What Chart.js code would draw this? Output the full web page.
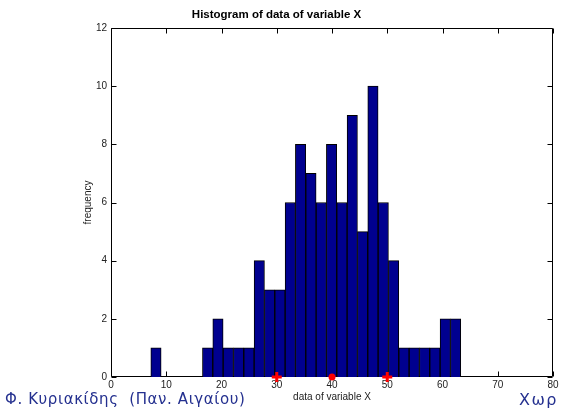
<!DOCTYPE html>
<html>
<head>
<meta charset="utf-8">
<script src="https://cdn.jsdelivr.net/npm/chart.js@4"></script>
<style>
body { margin: 0; background: #fff; }
#wrap { position: relative; width: 562px; height: 410px; overflow: hidden; }
#histChart { display: block; }
.note { position: absolute; font-family: "DejaVu Sans", sans-serif; font-size: 15px; letter-spacing: 0.6px; color: #24308f; white-space: nowrap; line-height: 1; }
</style>
</head>
<body>
<div id="wrap">
  <canvas id="histChart" width="562" height="410"></canvas>
  <div class="note" style="left:5px; top:392px;">Φ. Κυριακίδης &nbsp;(Παν. Αιγαίου)</div>
  <div class="note" style="left:519px; top:392px; font-size:16px; letter-spacing:1.5px;">Χωρ</div>
</div>
<script>
// 30 bins between min and max of the sample (hist(x,30))
const binCentres = [8.14, 10.01, 11.88, 13.75, 15.62, 17.49, 19.36, 21.23, 23.10, 24.97,
                    26.84, 28.71, 30.58, 32.45, 34.32, 36.19, 38.06, 39.93, 41.80, 43.67,
                    45.54, 47.41, 49.28, 51.15, 53.02, 54.89, 56.76, 58.63, 60.50, 62.37];
const counts = [1, 0, 0, 0, 0, 1, 2, 1, 1, 1,
                4, 3, 3, 6, 8, 7, 6, 8, 6, 9,
                5, 10, 6, 4, 1, 1, 1, 1, 2, 2];
const crossMarks = [30, 50];
const meanMark = [40];
const xRange = [0, 80];
const yRange = [0, 12];

Chart.defaults.font.family = "'Liberation Sans', Arial, sans-serif";
Chart.defaults.font.size = 10;
Chart.defaults.color = '#222';

// matlab style box with inward ticks on all sides
const framePlugin = {
    id: 'frame',
    beforeDatasetsDraw(chart) {
        const ctx = chart.ctx;
        const a = chart.chartArea;
        const x = chart.scales.x;
        const y = chart.scales.y;
        const L = Math.round(a.left) + 0.5, R = Math.round(a.right) - 0.5;
        const T = Math.round(a.top) + 0.5, B = Math.round(a.bottom) - 0.5;
        ctx.save();
        ctx.strokeStyle = '#000';
        ctx.lineWidth = 1;
        ctx.beginPath();
        ctx.rect(L, T, R - L, B - T);
        x.ticks.forEach(t => {
            const px = Math.round(x.getPixelForValue(t.value)) + 0.5;
            ctx.moveTo(px, B); ctx.lineTo(px, B - 5);
            ctx.moveTo(px, T); ctx.lineTo(px, T + 5);
        });
        y.ticks.forEach(t => {
            const py = Math.round(y.getPixelForValue(t.value)) + 0.5;
            ctx.moveTo(L, py); ctx.lineTo(L + 5, py);
            ctx.moveTo(R, py); ctx.lineTo(R - 5, py);
        });
        ctx.stroke();
        ctx.restore();
    }
};

new Chart(document.getElementById('histChart'), {
    type: 'bar',
    data: {
        datasets: [{
            type: 'scatter',
            data: crossMarks.map(v => ({ x: v, y: 0 })),
            pointStyle: 'cross',
            radius: 5,
            borderWidth: 3,
            borderColor: '#ff0000',
            backgroundColor: '#ff0000',
            clip: false,
            order: 0
        }, {
            type: 'scatter',
            data: meanMark.map(v => ({ x: v, y: 0 })),
            pointStyle: 'circle',
            radius: 3.5,
            borderWidth: 0,
            backgroundColor: '#ff0000',
            clip: false,
            order: 0
        }, {
            type: 'bar',
            data: binCentres.map((c, i) => ({ x: c, y: counts[i] })),
            backgroundColor: '#00008f',
            borderColor: '#000',
            borderWidth: 1,
            barPercentage: 1,
            categoryPercentage: 1,
            order: 1
        }]
    },
    options: {
        responsive: false,
        animation: false,
        layout: { padding: { left: 0, right: 9, top: 0, bottom: 0 } },
        plugins: {
            legend: { display: false },
            tooltip: { enabled: false },
            title: {
                display: true,
                text: 'Histogram of data of variable X',
                color: '#000',
                font: { size: 11.5, weight: 'bold' },
                padding: { top: 8, bottom: 6.2 }
            }
        },
        scales: {
            x: {
                type: 'linear',
                offset: false,
                min: xRange[0],
                max: xRange[1],
                ticks: { stepSize: 10, padding: 2.5, maxRotation: 0 },
                grid: { display: false, drawTicks: false },
                border: { display: false },
                title: { display: true, text: 'data of variable X', padding: { top: 0, bottom: 6.5 } },
                afterFit(scale) { scale.height = 33; }
            },
            y: {
                min: yRange[0],
                max: yRange[1],
                ticks: { stepSize: 2, padding: 4 },
                grid: { display: false, drawTicks: false },
                border: { display: false },
                title: { display: true, text: 'frequency', padding: { top: 82, bottom: 0 } },
                afterFit(scale) { scale.width = 111; }
            }
        }
    },
    plugins: [framePlugin]
});
</script>
</body>
</html>
